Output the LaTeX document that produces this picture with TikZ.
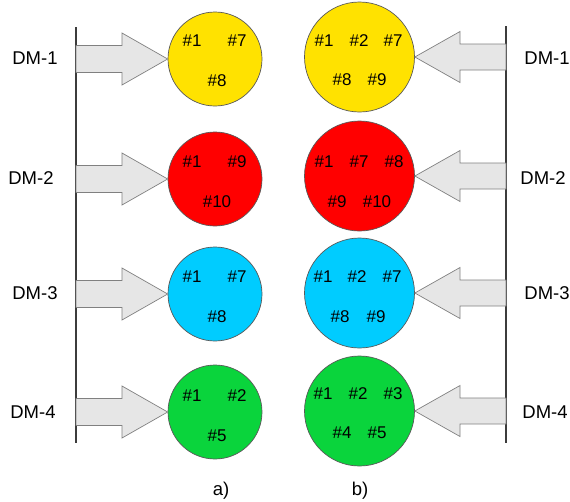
\documentclass[tikz,border=0pt]{standalone}
\usepackage{fontspec}
\setmainfont{Liberation Sans}
\definecolor{dmyellow}{RGB}{255,226,0}
\definecolor{dmred}{RGB}{255,0,0}
\definecolor{dmcyan}{RGB}{0,204,255}
\definecolor{dmgreen}{RGB}{10,212,60}
\definecolor{arrowfill}{RGB}{230,230,230}
\definecolor{arrowline}{RGB}{128,128,128}
\definecolor{axisline}{RGB}{60,60,60}
\tikzset{
  dmset/.style={circle, draw=black!65, line width=0.7pt, inner sep=0pt},
  smallset/.style={dmset, minimum size=94pt},
  bigset/.style={dmset, minimum size=110pt},
  hashlbl/.style={font=\fontsize{17}{20}\selectfont, inner sep=0pt},
  dmlbl/.style={font=\fontsize{18.5}{22}\selectfont, inner sep=0pt},
  fatarrow/.style={fill=arrowfill, draw=arrowline, line width=0.7pt, line join=miter},
  axis/.style={draw=axisline, line width=1.5pt}
}
\begin{document}
\begin{tikzpicture}[x=1pt,y=-1pt]
\useasboundingbox (0,0) rectangle (570,501);

% Left part a)
\coordinate (atop) at (76,27);
\coordinate (abot) at (76,443);
\draw[axis] (atop) -- (abot);

\node[dmlbl] (adm1) at (35,58) {DM-1};
\node[dmlbl] (adm2) at (31,178) {DM-2};
\node[dmlbl] (adm3) at (35,293) {DM-3};
\node[dmlbl] (adm4) at (33,412) {DM-4};

\node[smallset, fill=dmyellow] (a1) at (215,59) {};
\node[smallset, fill=dmred] (a2) at (215,179) {};
\node[smallset, fill=dmcyan] (a3) at (215,294) {};
\node[smallset, fill=dmgreen] (a4) at (215,412) {};

\draw[fatarrow] (76,45.5) -- (122,45.5) -- (122,33) -- (a1.west) -- (122,85) -- (122,72.5) -- (76,72.5) -- cycle;
\draw[fatarrow] (76,165.5) -- (122,165.5) -- (122,153) -- (a2.west) -- (122,205) -- (122,192.5) -- (76,192.5) -- cycle;
\draw[fatarrow] (76,280.5) -- (122,280.5) -- (122,268) -- (a3.west) -- (122,320) -- (122,307.5) -- (76,307.5) -- cycle;
\draw[fatarrow] (76,398.5) -- (122,398.5) -- (122,386) -- (a4.west) -- (122,438) -- (122,425.5) -- (76,425.5) -- cycle;

\node[hashlbl] (a1x) at (192,41) {\#1};
\node[hashlbl] (a1y) at (237,41) {\#7};
\node[hashlbl] (a1z) at (217,81) {\#8};
\node[hashlbl] (a2x) at (192,162) {\#1};
\node[hashlbl] (a2y) at (237,162) {\#9};
\node[hashlbl] (a2z) at (217,202) {\#10};
\node[hashlbl] (a3x) at (192,277) {\#1};
\node[hashlbl] (a3y) at (237,277) {\#7};
\node[hashlbl] (a3z) at (217,317) {\#8};
\node[hashlbl] (a4x) at (192,396) {\#1};
\node[hashlbl] (a4y) at (237,396) {\#2};
\node[hashlbl] (a4z) at (217,436) {\#5};

\node[dmlbl] (capa) at (221,491) {a)};

% Right part b)
\coordinate (btop) at (506,26);
\coordinate (bbot) at (506,443);
\draw[axis] (btop) -- (bbot);

\node[dmlbl] (bdm1) at (547,58) {DM-1};
\node[dmlbl] (bdm2) at (543,178) {DM-2};
\node[dmlbl] (bdm3) at (547,293) {DM-3};
\node[dmlbl] (bdm4) at (545,412) {DM-4};

\node[bigset, fill=dmyellow] (b1) at (359.5,57) {};
\node[bigset, fill=dmred] (b2) at (359.5,176) {};
\node[bigset, fill=dmcyan] (b3) at (359.5,293) {};
\node[bigset, fill=dmgreen] (b4) at (359.5,411) {};

\draw[fatarrow] (506,44) -- (460,44) -- (460,31.5) -- (b1.east) -- (460,82.5) -- (460,70) -- (506,70) -- cycle;
\draw[fatarrow] (506,163) -- (460,163) -- (460,150.5) -- (b2.east) -- (460,201.5) -- (460,189) -- (506,189) -- cycle;
\draw[fatarrow] (506,280) -- (460,280) -- (460,267.5) -- (b3.east) -- (460,318.5) -- (460,306) -- (506,306) -- cycle;
\draw[fatarrow] (506,398) -- (460,398) -- (460,385.5) -- (b4.east) -- (460,436.5) -- (460,424) -- (506,424) -- cycle;

\node[hashlbl] (b1u) at (324,41) {\#1};
\node[hashlbl] (b1v) at (359,41) {\#2};
\node[hashlbl] (b1w) at (393,41) {\#7};
\node[hashlbl] (b1x) at (342,80) {\#8};
\node[hashlbl] (b1y) at (377,80) {\#9};
\node[hashlbl] (b2u) at (324,162) {\#1};
\node[hashlbl] (b2v) at (359,162) {\#7};
\node[hashlbl] (b2w) at (394,162) {\#8};
\node[hashlbl] (b2x) at (337,202) {\#9};
\node[hashlbl] (b2y) at (377,202) {\#10};
\node[hashlbl] (b3u) at (323,277) {\#1};
\node[hashlbl] (b3v) at (357,277) {\#2};
\node[hashlbl] (b3w) at (392,277) {\#7};
\node[hashlbl] (b3x) at (340,317) {\#8};
\node[hashlbl] (b3y) at (376,317) {\#9};
\node[hashlbl] (b4u) at (323,394) {\#1};
\node[hashlbl] (b4v) at (358,394) {\#2};
\node[hashlbl] (b4w) at (393,394) {\#3};
\node[hashlbl] (b4x) at (342,433) {\#4};
\node[hashlbl] (b4y) at (377,433) {\#5};

\node[dmlbl] (capb) at (360,491) {b)};
\end{tikzpicture}
\end{document}
